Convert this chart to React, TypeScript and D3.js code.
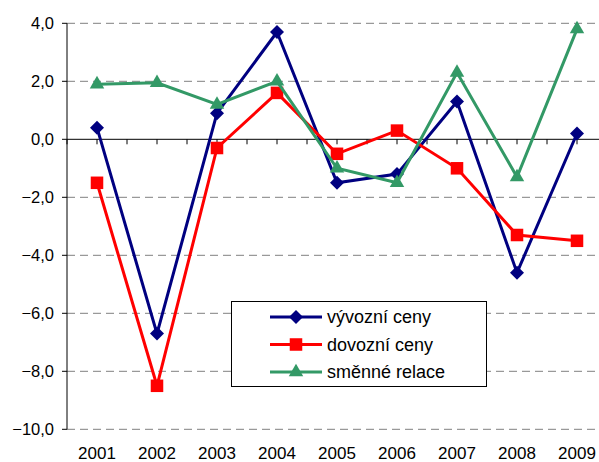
import React, { useEffect, useRef } from 'react';
import * as d3 from 'd3';

const years = ['2001', '2002', '2003', '2004', '2005', '2006', '2007', '2008', '2009'];
const vyvozniCeny = [0.4, -6.7, 0.9, 3.7, -1.5, -1.2, 1.3, -4.6, 0.2];
const dovozniCeny = [-1.5, -8.5, -0.3, 1.6, -0.5, 0.3, -1.0, -3.3, -3.5];
const smenneRelace = [1.9, 1.95, 1.2, 2.0, -1.0, -1.5, 2.3, -1.3, 3.8];
const yTicks = [4, 2, 0, -2, -4, -6, -8, -10];

const series = [
  { name: 'vývozní ceny', values: vyvozniCeny, color: '#000080', symbol: d3.symbolDiamond2, size: 125 },
  { name: 'dovozní ceny', values: dovozniCeny, color: '#FF0000', symbol: d3.symbolSquare2, size: 200 },
  { name: 'směnné relace', values: smenneRelace, color: '#339966', symbol: d3.symbolTriangle2, size: 150 },
];

const W = 599;
const H = 462;
const left = 67;
const right = 607;
const top = 23.3;
const bottom = 429.3;
const font = 'Arial, "Liberation Sans", sans-serif';

const App = () => {
  const ref = useRef<SVGSVGElement>(null);

  useEffect(() => {
    const svg = d3.select(ref.current);
    svg.selectAll('*').remove();

    const x = d3.scalePoint().domain(years).range([left, right]).padding(0.5);
    const y = d3.scaleLinear().domain([-10, 4]).range([bottom, top]);
    const step = x.step();

    // gridlines
    svg.append('g')
      .selectAll('line')
      .data(yTicks.filter(t => t !== 0))
      .join('line')
      .attr('x1', left).attr('x2', right)
      .attr('y1', d => y(d)).attr('y2', d => y(d))
      .attr('stroke', '#808080')
      .attr('stroke-width', 1)
      .attr('stroke-dasharray', '8,5');

    // y axis
    const yAxis = svg.append('g').attr('transform', `translate(${left},0)`);
    yAxis.append('line').attr('y1', top).attr('y2', bottom).attr('stroke', '#000');
    yAxis.selectAll('line.t')
      .data(yTicks)
      .join('line')
      .attr('class', 't')
      .attr('x1', -5).attr('x2', 0)
      .attr('y1', d => y(d)).attr('y2', d => y(d))
      .attr('stroke', '#000');
    yAxis.selectAll('text')
      .data(yTicks)
      .join('text')
      .attr('x', -13)
      .attr('y', d => y(d))
      .attr('dy', '0.36em')
      .attr('text-anchor', 'end')
      .attr('font-family', font)
      .attr('font-size', 16.5)
      .text(d => d3.format('.1f')(d).replace('.', ','));

    // x axis at zero
    const xAxis = svg.append('g').attr('transform', `translate(0,${y(0)})`);
    xAxis.append('line').attr('x1', left).attr('x2', right).attr('stroke', '#000');
    const tickPos = d3.range(0, years.length * 2 + 1).map(i => left + i * step / 2);
    xAxis.selectAll('line.t')
      .data(tickPos)
      .join('line')
      .attr('class', 't')
      .attr('x1', d => d).attr('x2', d => d)
      .attr('y1', 0).attr('y2', 5)
      .attr('stroke', '#000');

    svg.append('g')
      .selectAll('text')
      .data(years)
      .join('text')
      .attr('x', d => x(d)!)
      .attr('y', 459)
      .attr('text-anchor', 'middle')
      .attr('font-family', font)
      .attr('font-size', 17)
      .text(d => d);

    const line = d3.line<number>()
      .x((_, i) => x(years[i])!)
      .y(d => y(d));

    series.forEach(s => {
      const g = svg.append('g');
      g.append('path')
        .attr('d', line(s.values))
        .attr('fill', 'none')
        .attr('stroke', s.color)
        .attr('stroke-width', 3);
      g.selectAll('path.m')
        .data(s.values)
        .join('path')
        .attr('class', 'm')
        .attr('transform', (d, i) => `translate(${x(years[i])},${y(d)})`)
        .attr('d', d3.symbol().type(s.symbol).size(s.size)())
        .attr('fill', s.color);
    });

    // legend
    const lg = svg.append('g');
    lg.append('rect')
      .attr('x', 231.5).attr('y', 301.5)
      .attr('width', 255).attr('height', 85)
      .attr('fill', '#fff').attr('stroke', '#000');
    series.forEach((s, i) => {
      const ly = 317 + i * 27.5;
      lg.append('line')
        .attr('x1', 270).attr('x2', 322)
        .attr('y1', ly).attr('y2', ly)
        .attr('stroke', s.color).attr('stroke-width', 3);
      lg.append('path')
        .attr('transform', `translate(296,${ly})`)
        .attr('d', d3.symbol().type(s.symbol).size(s.size)())
        .attr('fill', s.color);
      lg.append('text')
        .attr('x', 327).attr('y', ly)
        .attr('dy', '0.36em')
        .attr('font-family', font)
        .attr('font-size', 18)
        .text(s.name);
    });
  }, []);

  return (
    <svg ref={ref} width={W} height={H} style={{ position: 'absolute', left: 0, top: 0, background: '#fff' }} />
  );
};

export default App;
